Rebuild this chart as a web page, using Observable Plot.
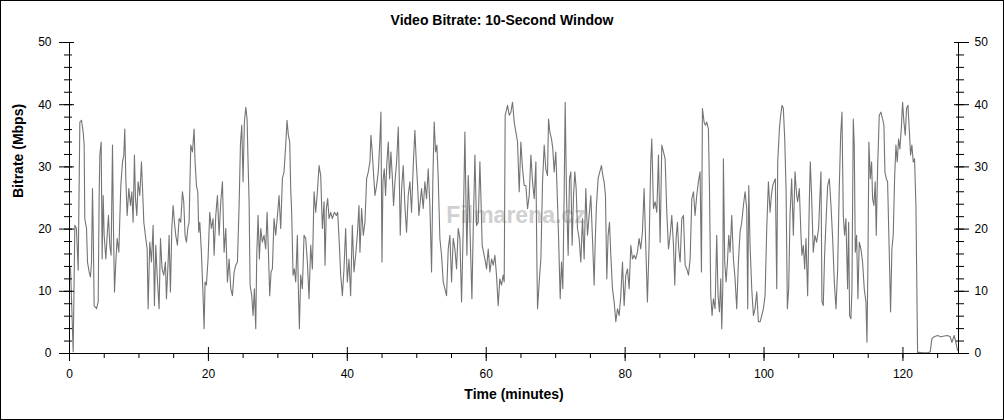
<!DOCTYPE html>
<html><head><meta charset="utf-8">
<script src="https://cdn.jsdelivr.net/npm/d3@7"></script>
<script src="https://cdn.jsdelivr.net/npm/@observablehq/plot@0.6"></script>
<style>
html,body{margin:0;padding:0;background:#fff;}
#wrap{position:relative;width:1004px;height:420px;overflow:hidden;font-family:"Liberation Sans",Arial,sans-serif;color:#000;}
#title{box-sizing:border-box;height:34px;padding-top:12px;line-height:16px;text-align:center;font-weight:bold;font-size:14px;}
#border{position:absolute;left:0;top:0;width:1004px;height:420px;box-sizing:border-box;border:1px solid #000;pointer-events:none;}
#chart svg{display:block;}
</style></head>
<body>
<div id="wrap">
  <div id="title">Video Bitrate: 10-Second Window</div>
  <div id="chart"></div>
  <div id="border"></div>
</div>
<script>
const minutes = [0,0.15,0.53,0.77,1.0,1.25,1.49,1.73,1.97,2.11,2.2,2.45,2.59,2.83,3.02,3.17,3.31,3.41,3.55,3.89,4.13,4.27,4.37,4.56,4.7,4.85,4.99,5.23,5.42,5.61,5.8,5.99,6.19,6.33,6.48,6.67,6.86,7.1,7.39,7.63,7.82,7.96,8.11,8.3,8.54,8.78,8.97,9.16,9.35,9.5,9.69,9.88,10.12,10.36,10.5,10.7,10.98,11.18,11.32,11.56,11.8,12.04,12.23,12.42,12.62,12.9,13.1,13.33,13.57,13.81,13.96,14.2,14.34,14.53,14.73,14.92,15.11,15.3,15.54,15.78,16.02,16.26,16.45,16.64,16.84,17.03,17.22,17.46,17.7,17.94,18.08,18.28,18.47,18.61,18.76,18.99,19.23,19.38,19.52,19.71,19.95,20.19,20.43,20.67,20.82,21.06,21.3,21.54,21.78,22.02,22.26,22.5,22.74,22.98,23.22,23.46,23.7,23.94,24.18,24.42,24.61,24.8,24.99,25.18,25.38,25.57,25.71,25.86,26.0,26.24,26.43,26.62,26.82,26.96,27.15,27.34,27.54,27.77,28.01,28.25,28.45,28.64,28.83,29.02,29.21,29.45,29.69,29.98,30.17,30.41,30.65,30.89,31.13,31.32,31.51,31.71,31.85,31.99,32.19,32.38,32.57,32.81,32.95,33.1,33.29,33.53,33.77,34.01,34.25,34.49,34.73,34.97,35.21,35.45,35.69,35.93,36.17,36.41,36.65,36.79,36.98,37.17,37.37,37.61,37.85,38.13,38.42,38.61,38.81,39.05,39.29,39.52,39.76,40.0,40.24,40.48,40.72,40.96,41.2,41.44,41.68,41.82,42.06,42.3,42.54,42.78,43.02,43.26,43.4,43.59,43.79,43.98,44.22,44.46,44.7,44.84,44.99,45.13,45.32,45.51,45.7,45.9,46.09,46.28,46.47,46.66,46.86,47.1,47.34,47.53,47.62,47.82,48.05,48.29,48.53,48.77,49.01,49.25,49.49,49.73,49.93,50.12,50.31,50.5,50.69,50.93,51.17,51.41,51.65,51.89,52.13,52.32,52.51,52.71,52.9,53.09,53.33,53.57,53.81,54.05,54.29,54.53,54.77,55.01,55.25,55.49,55.73,55.97,56.21,56.45,56.69,56.93,57.07,57.22,57.41,57.6,57.79,57.94,58.13,58.37,58.61,58.85,59.09,59.23,59.42,59.61,59.81,60.05,60.29,60.53,60.77,61.01,61.25,61.48,61.72,61.96,62.2,62.44,62.59,62.73,63.07,63.31,63.55,63.79,64.03,64.27,64.51,64.75,64.99,65.23,65.47,65.71,65.95,66.19,66.43,66.67,66.91,67.15,67.29,67.39,67.63,67.87,68.11,68.35,68.58,68.82,68.97,69.16,69.4,69.59,69.78,70.02,70.26,70.41,70.65,70.84,71.03,71.22,71.37,71.56,71.8,71.99,72.18,72.37,72.57,72.76,72.95,73.14,73.38,73.62,73.86,74.1,74.34,74.58,74.82,75.06,75.3,75.54,75.68,75.87,76.11,76.35,76.59,76.79,76.98,77.17,77.36,77.55,77.75,77.94,78.18,78.42,78.66,78.9,79.14,79.38,79.62,79.86,80.1,80.34,80.58,80.82,81.06,81.3,81.53,81.77,82.01,82.25,82.49,82.73,82.97,83.21,83.45,83.69,83.84,84.08,84.32,84.56,84.8,85.04,85.28,85.52,85.76,86.0,86.24,86.48,86.72,86.96,87.15,87.34,87.53,87.72,87.92,88.16,88.4,88.64,88.88,89.12,89.36,89.6,89.84,90.07,90.31,90.55,90.79,90.99,91.13,91.37,91.56,91.75,91.99,92.14,92.33,92.52,92.71,92.95,93.19,93.38,93.58,93.77,93.91,94.06,94.15,94.34,94.54,94.73,94.92,95.11,95.35,95.59,95.83,96.07,96.31,96.55,96.79,97.03,97.27,97.51,97.65,97.8,97.99,98.23,98.47,98.71,98.95,99.19,99.43,99.67,99.91,100.15,100.39,100.63,100.87,101.06,101.25,101.44,101.63,101.83,101.97,102.21,102.4,102.59,102.78,102.98,103.17,103.36,103.55,103.74,103.98,104.22,104.46,104.7,104.84,105.08,105.32,105.46,105.66,105.85,106.04,106.28,106.52,106.66,106.85,107.09,107.33,107.57,107.86,108.05,108.2,108.34,108.53,108.72,108.92,109.16,109.4,109.64,109.88,110.12,110.36,110.6,110.83,111.03,111.22,111.41,111.6,111.79,112.03,112.18,112.32,112.51,112.66,112.85,112.99,113.14,113.33,113.52,113.71,113.95,114.19,114.43,114.67,114.82,114.96,115.1,115.3,115.49,115.63,115.82,116.01,116.16,116.35,116.59,116.83,117.07,117.26,117.41,117.6,117.79,118.03,118.22,118.41,118.6,118.8,118.99,119.18,119.37,119.56,119.76,119.95,120.14,120.33,120.52,120.72,120.91,121.1,121.29,121.48,121.67,121.87,122.11,122.35,122.83,123.55,123.93,124.17,124.5,124.98,125.46,125.94,126.42,126.81,127.05,127.38,127.62,127.86];
const mbps = [14,13.6,0.3,20.6,20.1,13.4,37.2,37.5,35.6,33.5,21.7,20.1,14.7,13.1,12.3,14.7,26.5,20.1,7.7,7.2,8.3,25.4,31.9,34,15.2,25.4,19,15.2,19,22.2,17.4,15.8,33.5,20.1,9.9,14.7,18.5,16.3,27,30.8,31.9,36.1,28.1,22.2,26.5,23.8,26,21.1,31.9,24.9,22.2,27.6,25.4,30.8,27,21.1,18.5,16.8,7.2,17.9,14.7,20.6,7.7,17.4,12.6,7.2,18.5,13.6,12.6,14.7,8.8,14.7,19,9.9,20.1,23.8,21.1,19,17.4,21.7,21.1,26,24.4,19,17.9,20.1,21.1,33.5,32.4,36.1,30.8,27,26,19.5,21.1,16.3,9.3,4,11.5,11,15.2,22.7,20.1,21.7,15.8,22.2,25.4,19,24.4,27.6,16.3,20.1,11.5,15.2,10.4,9.3,13.1,14.2,14.7,23.8,33.5,36.7,27.6,37.2,39.6,37.7,30.8,24.4,11,9.3,6.1,10.4,4,15.8,22.2,15.2,20.1,17.9,19,16.8,22.7,16.3,9.3,13.1,13.6,21.7,19,22.7,25.4,20.1,28.1,29.2,33.5,37.5,35.1,34,26.5,22.7,12.6,13.6,11.5,19,10.4,4,12.6,10.4,19,18.5,14.7,8.8,17.4,13.6,26,22.7,26,30.2,28.6,20.1,24.4,14.2,23.3,24.9,21.7,22.7,21.7,22.7,22.2,22.7,18.5,12.6,9.3,13.6,20.1,11.5,15.2,9.3,20.6,13.1,15.8,19,23.8,16.3,23.3,19,21.1,28.1,29.2,30.8,35.1,32.4,28.6,25.4,27,29.2,34.5,38.8,14.7,27.6,29.7,25.4,30.8,34,28.1,32.4,28.6,23.8,27.6,30.8,36.4,25.4,19,26.5,30.2,23.8,19.5,25.4,27.6,22.7,30.2,35.9,30.8,27,22.2,24.4,26.5,23.3,27.6,24.9,29.7,23.8,13.1,28.1,37.2,32.4,33.5,28.1,18.5,15.8,11.5,10.4,9.3,16.8,19,11.5,18.5,16.8,13.6,20.1,18.5,8.3,20.1,35.6,25.4,15.8,28.6,22.7,14.7,8.8,20.1,31.9,20.6,21.1,30.8,25.4,17.4,16.3,15.2,13.6,16.8,13.1,15.2,14.2,15.8,12.6,7.7,12,11,12.6,11.5,38.3,39.9,38.3,38.8,40.4,37.2,35.6,34,26,34,29.7,27,27,23.3,25.4,31.9,27.6,24.9,30.8,15.2,7.2,11.5,15.2,27.6,33.5,29.7,28.6,37.7,35.6,34.5,32.9,29.2,32.4,24.4,19,8.8,14.7,10.4,25.4,40.4,25.4,15.8,28.1,29.2,17.4,25.4,29.2,26.5,20.1,18.5,14.7,21.7,15.2,26.5,19,22.2,25.4,18.5,11,17.4,23.8,28.1,29.2,30.2,28.6,27.6,25.4,12,19,21.1,15.8,10.4,8.3,5.1,7.2,6.1,9.3,14.7,7.7,12.6,13.6,10.4,17.4,15.2,15.8,15.2,16.3,18.5,16.8,19.5,26.5,17.4,8.3,17.4,30.8,34.5,23.3,24.4,22.7,31.9,17.9,33.5,32.4,31.3,22.7,16.8,19,22.2,17.4,11,18.5,21.1,16.8,14.7,21.7,22.2,14.2,13.6,12.6,15.2,24.9,26,22.2,25.4,27.6,29.2,13.1,39.4,37.2,36.7,37.2,36.1,27,9.3,6.1,8.8,7.2,19,9.3,6.7,12,4,10.4,31.3,14.7,11.5,14.7,19,16.3,22.2,15.2,12,7.2,14.7,19.5,21.1,23.8,26,23.3,7.2,27,17.4,10.4,6.1,7.2,9.9,5.1,5.1,6.1,7.2,9.3,20.1,27.6,22.7,25.4,27,27.6,28.1,10.4,30.8,36.1,38.3,39.9,39.4,34.5,26.5,7.2,10.4,22.2,28.1,19,29.2,25.4,24.4,26.5,19,15.8,17.4,13.6,18.5,9.3,24.4,30.8,25.4,16.3,19,17.9,20.1,25.4,29.2,8.3,7.7,15.8,21.1,27,28.1,23.8,18.5,11.5,7.2,13.6,26.5,35.1,38.8,22.2,19,21.7,10.4,21.1,6.1,5.6,10.4,37.7,33.5,16.3,19,8.8,17.9,16.8,14.7,10.4,8.3,1.8,14.7,34,28.1,30.8,24.9,23.8,27.6,19,29.7,38.3,38.8,37.7,36.7,29.2,28.1,27.6,16.3,6.7,16.8,19,28.1,33.5,30.8,34.5,32.9,36.1,40.4,37.2,35.1,39.4,39.9,36.1,31.9,33.5,30.8,31.3,23.8,0.1,0.2,0.1,0.1,0.3,2.4,2.7,2.9,2.7,2.8,2.9,2.7,1.8,2.9,1.8,0.5];

const xMajorTicks = [0, 20, 40, 60, 80, 100, 120];
const xMinorTicks = d3.range(0, 128, 5);
const yMajorTicks = [0, 10, 20, 30, 40, 50];
const yMinorTicks = d3.range(0, 51, 2);
const xDomain = [0, 128];
const yDomain = [0, 50];

const rows = minutes.map((m, i) => ({m, v: mbps[i]}));
const blank = () => "";

const chart = Plot.plot({
  width: 1004,
  height: 386,
  marginTop: 8,
  marginBottom: 67,
  marginLeft: 69,
  marginRight: 46,
  style: {fontFamily: '"Liberation Sans", Arial, sans-serif', fontSize: "12px", color: "#000", background: "#fff", overflow: "visible"},
  x: {domain: xDomain},
  y: {domain: yDomain},
  marks: [
    Plot.text(["Filmarena.cz"], {frameAnchor: "middle", dx: 2, dy: 18, fontSize: 23, fontWeight: "bold", fill: "#d0d0d0"}),
    Plot.line(rows, {x: "m", y: "v", stroke: "#747474", strokeWidth: 1.1}),
    Plot.ruleX(xDomain, {stroke: "#000"}),
    Plot.ruleY([0], {stroke: "#000"}),
    Plot.axisY(yMinorTicks, {anchor: "left", tickSize: 8, dx: 3, tickFormat: blank, label: null}),
    Plot.axisY(yMajorTicks, {anchor: "left", tickSize: 15, dx: 5, tickFormat: blank, label: null}),
    Plot.axisY(yMajorTicks, {anchor: "left", tickSize: 0, tickPadding: 18, label: null}),
    Plot.axisY(yMinorTicks, {anchor: "right", tickSize: 8, dx: -3, tickFormat: blank, label: null}),
    Plot.axisY(yMajorTicks, {anchor: "right", tickSize: 15, dx: -5, tickFormat: blank, label: null}),
    Plot.axisY(yMajorTicks, {anchor: "right", tickSize: 0, tickPadding: 16, label: null}),
    Plot.axisX(xMinorTicks, {anchor: "bottom", tickSize: 5, tickFormat: blank, label: null}),
    Plot.axisX(xMajorTicks, {anchor: "bottom", tickSize: 14, dy: -6, tickFormat: blank, label: null}),
    Plot.axisX(xMajorTicks, {anchor: "bottom", tickSize: 0, tickPadding: 16, label: null}),
    Plot.text(["Time (minutes)"], {frameAnchor: "bottom", dy: 45, fontWeight: "bold", fontSize: 14}),
    Plot.text(["Bitrate (Mbps)"], {frameAnchor: "left", dx: -51, rotate: -90, fontWeight: "bold", fontSize: 14})
  ]
});
document.getElementById("chart").appendChild(chart);
</script>
</body></html>
